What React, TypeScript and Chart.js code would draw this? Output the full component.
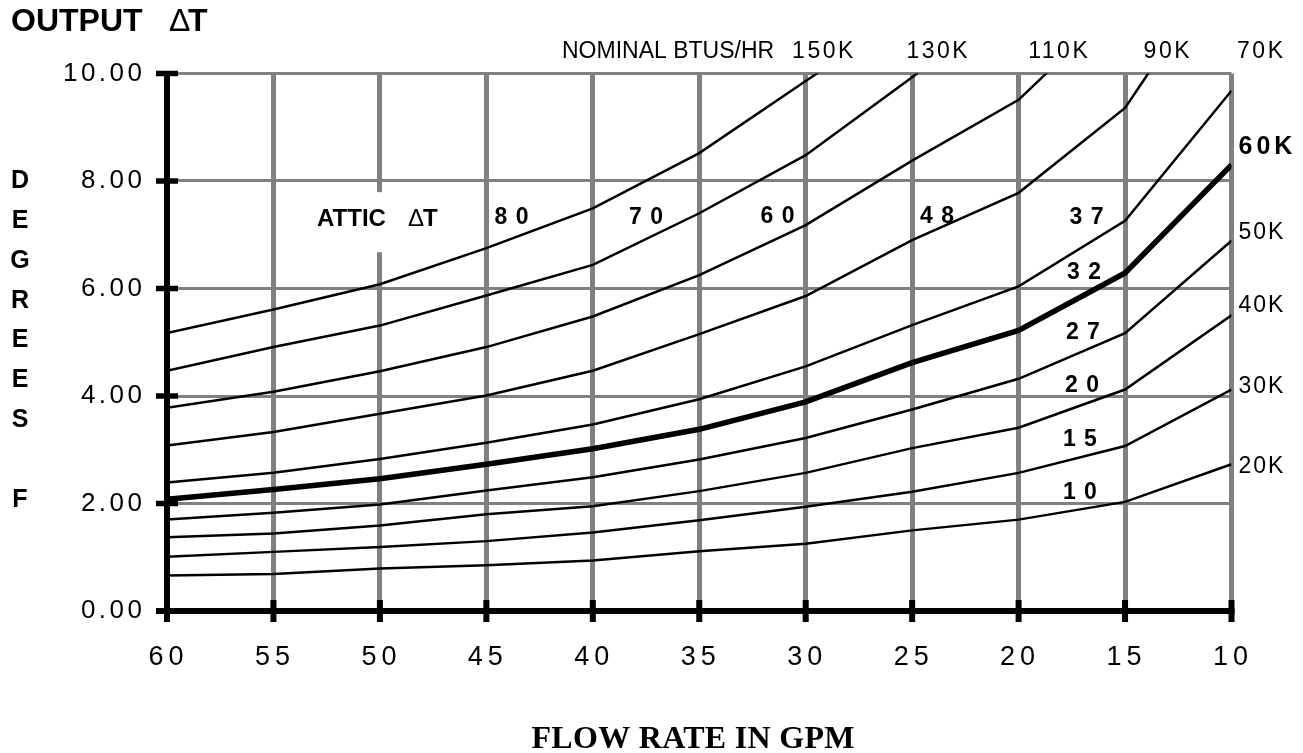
import React, { useEffect, useRef } from "react";
import { Chart, registerables } from "chart.js";

Chart.register(...registerables);

// ---- data ----
const flowRates = [60, 55, 50, 45, 40, 35, 30, 25, 20, 15, 10];

const btu150K = [5.17, 5.61, 6.08, 6.75, 7.49, 8.52, 9.86, 11.2, null, null, null];
const btu130K = [4.47, 4.91, 5.31, 5.87, 6.44, 7.4, 8.48, 9.93, 11.5, null, null];
const btu110K = [3.78, 4.08, 4.46, 4.91, 5.48, 6.25, 7.18, 8.38, 9.51, 11.4, null];
const btu90K = [3.08, 3.33, 3.67, 4.01, 4.47, 5.15, 5.86, 6.9, 7.78, 9.36, 12.3];
const btu70K = [2.39, 2.57, 2.83, 3.13, 3.47, 3.94, 4.55, 5.32, 6.04, 7.26, 9.68];
const btu60K = [2.08, 2.26, 2.46, 2.73, 3.02, 3.38, 3.89, 4.62, 5.22, 6.29, 8.3];
const btu50K = [1.7, 1.83, 1.98, 2.24, 2.49, 2.82, 3.22, 3.75, 4.32, 5.17, 6.89];
const btu40K = [1.37, 1.44, 1.59, 1.8, 1.95, 2.23, 2.57, 3.03, 3.41, 4.12, 5.5];
const btu30K = [1.01, 1.1, 1.19, 1.3, 1.46, 1.69, 1.94, 2.22, 2.57, 3.07, 4.12];
const btu20K = [0.66, 0.69, 0.79, 0.85, 0.94, 1.11, 1.25, 1.5, 1.7, 2.03, 2.73];

const seriesValues = [btu150K, btu130K, btu110K, btu90K, btu70K, btu60K, btu50K, btu40K, btu30K, btu20K];
const seriesNames = ["150K", "130K", "110K", "90K", "70K", "60K", "50K", "40K", "30K", "20K"];
const boldSeries = "60K";

// top labels (name, flow position)
const topLabels = ["150K", "130K", "110K", "90K", "70K"];
const topLabelFlows = [29.2, 23.83, 18.15, 13.05, 8.66];
// right labels (name, value position)
const rightLabels = ["60K", "50K", "40K", "30K", "20K"];
const rightLabelValues = [8.63, 7.03, 5.69, 4.17, 2.68];

// attic delta T labels
const atticLabels = ["8 0", "7 0", "6 0", "4 8", "3 7", "3 2", "2 7", "2 0", "1 5", "1 0"];
const atticFlows = [43.82, 37.5, 31.32, 23.83, 16.81, 16.93, 16.98, 17.02, 17.12, 17.12];
const atticValues = [7.31, 7.31, 7.33, 7.33, 7.31, 6.29, 5.17, 4.2, 3.18, 2.2];

const yTickValues = [0, 2, 4, 6, 8, 10];
const yTitleLetters = ["D", "E", "G", "R", "E", "E", "S", "", "F"];

const SANS = '"Liberation Sans", Arial, Helvetica, sans-serif';

function text(ctx: any, s: string, x: number, y: number, font: string, align: string, spacing = 0) {
  ctx.save();
  ctx.font = font;
  ctx.fillStyle = "#000";
  ctx.textBaseline = "middle";
  ctx.textAlign = align;
  ctx.letterSpacing = spacing + "px";
  let dx = 0;
  if (align === "center") dx = spacing / 2;
  if (align === "right") dx = spacing;
  ctx.fillText(s, x + dx, y);
  ctx.restore();
}

function flowToPixel(xs: any, flow: number) {
  const n = flowRates.length;
  const first = xs.getPixelForValue(0);
  const last = xs.getPixelForValue(n - 1);
  const idx = ((flowRates[0] - flow) / (flowRates[0] - flowRates[n - 1])) * (n - 1);
  return first + ((last - first) * idx) / (n - 1);
}

const decorPlugin = {
  id: "decor",
  afterDraw(chart: any) {
    const ctx = chart.ctx;
    const xs = chart.scales.x;
    const ys = chart.scales.y;
    const area = chart.chartArea;

    // black axis ticks
    ctx.save();
    ctx.fillStyle = "#000";
    yTickValues.forEach((v) => {
      const py = ys.getPixelForValue(v);
      ctx.fillRect(area.left - 11, py - 2.75, 22, 5.5);
    });
    ctx.fillRect(area.left - 11, area.bottom - 3, area.right - area.left + 11 + 3, 6);
    flowRates.forEach((_, i) => {
      const px = xs.getPixelForValue(i);
      ctx.fillRect(px - 3, area.bottom - 11, 6, 22);
    });
    ctx.restore();

    // y tick labels
    yTickValues.forEach((v) => {
      text(ctx, v.toFixed(2), area.left - 25, ys.getPixelForValue(v), "26px " + SANS, "right", 3.5);
    });
    // x tick labels
    flowRates.forEach((f, i) => {
      text(ctx, String(f), xs.getPixelForValue(i) - 1, area.bottom + 47, "27px " + SANS, "center", 5);
    });

    // titles
    text(ctx, "OUTPUT", 11, 22, "bold 32px " + SANS, "left", 0);
    text(ctx, "\u0394", 169, 22, "32px " + SANS, "left", 0);
    text(ctx, "T", 188, 22, "bold 32px " + SANS, "left", 0);
    text(ctx, "FLOW RATE IN GPM", 693, 740, 'bold 32px "Liberation Serif", "Times New Roman", serif', "center", 0.3);
    yTitleLetters.forEach((l, i) => {
      if (l) text(ctx, l, 20, 181 + i * 39.9, "bold 25px " + SANS, "center", 0);
    });

    // nominal BTU labels
    text(ctx, "NOMINAL BTUS/HR", 562, 52, "23px " + SANS, "left", 0);
    topLabels.forEach((l, i) => {
      text(ctx, l, flowToPixel(xs, topLabelFlows[i]), 52, "23px " + SANS, "center", 2.5);
    });
    rightLabels.forEach((l, i) => {
      const bold = l === boldSeries;
      text(ctx, l, area.right + 7, ys.getPixelForValue(rightLabelValues[i]), (bold ? "bold 25px " : "23px ") + SANS, "left", bold ? 4 : 2);
    });

    // attic label with white box
    const ax = flowToPixel(xs, 50.11);
    const ay = ys.getPixelForValue(7.29);
    ctx.save();
    ctx.fillStyle = "#fff";
    ctx.fillRect(ax - 64, ay - 27, 128, 60);
    ctx.restore();
    text(ctx, "ATTIC", ax - 60.5, ay, "bold 24px " + SANS, "left", 0);
    text(ctx, "\u0394", ax + 30.5, ay, "24px " + SANS, "left", 0);
    text(ctx, "T", ax + 45.5, ay, "bold 24px " + SANS, "left", 0);
    atticLabels.forEach((l, i) => {
      text(ctx, l, flowToPixel(xs, atticFlows[i]), ys.getPixelForValue(atticValues[i]), "bold 23px " + SANS, "center", 1);
    });
  },
};

export default function App() {
  const ref = useRef<HTMLCanvasElement | null>(null);
  useEffect(() => {
    if (!ref.current) return;
    const chart = new Chart(ref.current, {
      type: "line",
      data: {
        labels: flowRates.map(String),
        datasets: seriesValues.map((vals, i) => ({
          label: seriesNames[i],
          data: vals,
          borderColor: "#000",
          borderWidth: seriesNames[i] === boldSeries ? 5.5 : 2.5,
          pointRadius: 0,
          tension: 0,
          fill: false,
          clip: 0,
          spanGaps: false,
        })),
      },
      options: {
        responsive: false,
        animation: false,
        events: [],
        layout: { padding: { left: 167, top: 73.5, right: 1303 - 1231.5, bottom: 753 - 611 } },
        plugins: { legend: { display: false }, tooltip: { enabled: false } },
        scales: {
          x: {
            type: "category",
            offset: false,
            grid: { color: "#808080", lineWidth: 5, drawTicks: false },
            border: { display: true, color: "#000", width: 6 },
            ticks: { display: false },
          },
          y: {
            min: 0,
            max: 10,
            ticks: { display: false, stepSize: 2 },
            grid: { color: "#808080", lineWidth: 3, drawTicks: false },
            border: { display: true, color: "#000", width: 6 },
          },
        },
      },
      plugins: [decorPlugin],
    } as any);
    return () => chart.destroy();
  }, []);
  return (
    <div style={{ position: "absolute", left: 0, top: 0, width: 1303, height: 753, background: "#fff" }}>
      <canvas ref={ref} width={1303} height={753} style={{ display: "block" }} />
    </div>
  );
}
